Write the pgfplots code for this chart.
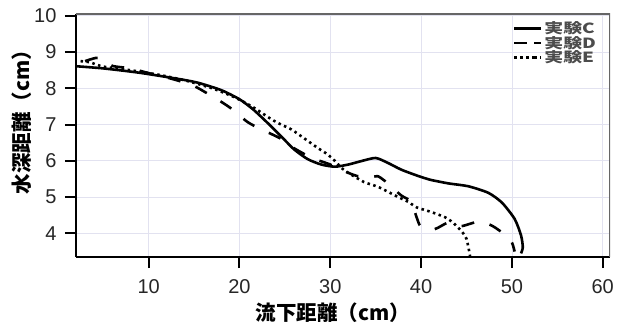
\documentclass[border=0pt]{standalone}
\usepackage{fontspec}
\setmainfont{Liberation Sans}
\newfontfamily\jp{Noto Sans CJK JP}
\newfontfamily\jpw{Noto Sans CJK JP}[FakeStretch=1.35]
\usepackage{pgfplots}
\pgfplotsset{compat=1.18}
\definecolor{gridc}{RGB}{226,226,240}
\begin{document}
\begin{tikzpicture}
\begin{axis}[
  name=ax, scale only axis, width=534pt, height=243pt,
  xmin=2, xmax=60.8, ymin=3.35, ymax=10.05,
  axis lines*=left,
  axis line style={-, line width=2.6pt, black},
  xtick={10,20,...,60}, ytick={4,5,...,10},
  tick align=outside, major tick length=11pt,
  tick style={line width=2pt, black},
  grid=major, grid style={line width=0.8pt, color=gridc},
  /pgf/number format/assume math mode=true,
  ticklabel style={font=\fontsize{20}{20}\selectfont, text=black!85},
  yticklabel style={xshift=-5pt},
  xticklabel style={yshift=-8pt},
  xlabel={流下距離（cm）}, ylabel={水深距離（cm）},
  xlabel style={font=\jp\bfseries\fontsize{20.5}{20.5}\selectfont, at={(axis description cs:0.481,-0.23)}, anchor=center},
  ylabel style={font=\jp\bfseries\fontsize{20.5}{20.5}\selectfont, at={(axis description cs:-0.101,0.575)}, anchor=center},
  legend style={draw=none, fill=none, at={(axis cs:59.5,9.9)}, anchor=north east,
    font=\jpw\bfseries\fontsize{14}{14}\selectfont, text=black!70, inner sep=0pt, row sep=-3pt},
  legend cell align=left,
  legend image code/.code={\draw[#1] (0pt,0pt) -- (20pt,0pt); \path (20pt,0pt) -- (27pt,0pt);},
]
\addplot[black, line width=2.6pt, smooth, tension=0.4] coordinates {
(2,8.61) (5,8.55) (9,8.43) (13.5,8.25) (15.5,8.15) (18,7.95) (20,7.7) (21.5,7.42)
(23,7.07) (24.5,6.7) (26,6.32) (27.5,6.05) (29,5.9) (30.5,5.84) (32,5.9) (33.5,6.0)
(35,6.08) (36.3,5.95) (37.8,5.76) (39.5,5.6) (41,5.48) (43,5.38) (45.2,5.3) (47.4,5.12)
(48.9,4.85) (50.3,4.4) (51,3.95) (51.2,3.62) (51,3.45)
};
\addlegendentry{実験C}
\addplot[black, line width=2.6pt, dash pattern=on 13pt off 16pt, smooth, tension=0.4] coordinates {
(3,8.75) (4.2,8.84) (5,8.8) (6,8.62) (8,8.55) (10,8.42) (12,8.3) (14.5,8.12) (15.5,8.0)
(17.6,7.69) (19,7.46) (20.9,7.07) (22.4,6.87) (24.5,6.62) (26,6.35) (28,6.08) (30,5.9)
(31.5,5.72) (33,5.58) (34.5,5.55) (35.2,5.58) (36,5.45) (37.8,5.05) (38.9,4.88)
(39.5,4.45) (40,4.18) (41.5,4.12) (43,4.3) (44.4,4.2) (46.4,4.33) (47.9,4.2)
(49.3,3.95) (50,3.75) (50.3,3.5)
};
\addlegendentry{実験D}
\addplot[black, line width=2.6pt, dash pattern=on 2.5pt off 3.5pt, smooth, tension=0.4] coordinates {
(2.5,8.75) (3.5,8.72) (5,8.6) (8,8.5) (11,8.38) (14,8.22) (17,8.0) (19.5,7.75)
(21.5,7.48) (23.5,7.15) (24.6,7.0) (25.7,6.87) (26.8,6.68) (28.6,6.36) (29.7,6.18)
(30.5,6.0) (31.5,5.75) (33.7,5.42) (35.3,5.28) (37.5,5.0) (38.6,4.87) (39.5,4.72)
(41,4.6) (42.6,4.45) (43.5,4.3) (44.5,4.05) (45,3.85) (45.3,3.5) (45.4,3.35)
};
\addlegendentry{実験E}
\draw[line width=2.6pt, black!60] (rel axis cs:0,1) -- (rel axis cs:1,1) -- (rel axis cs:1,0);
\end{axis}
\pgfresetboundingbox
\path ([shift={(-76pt,-70pt)}]ax.south west) rectangle ([shift={(8pt,14pt)}]ax.north east);
\end{tikzpicture}
\end{document}
